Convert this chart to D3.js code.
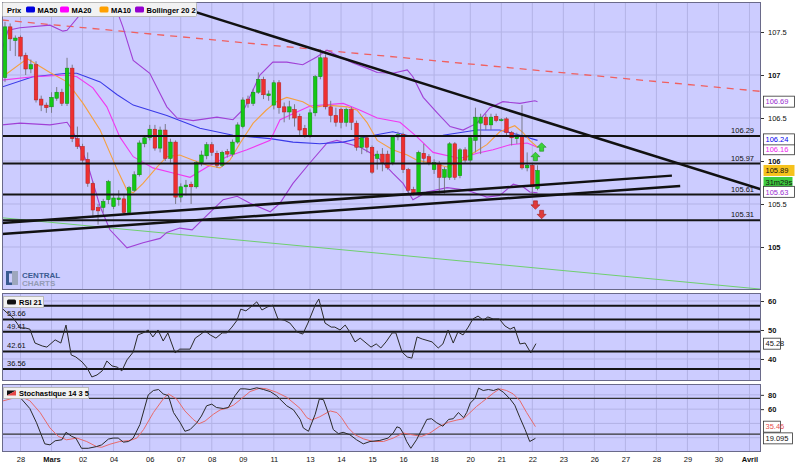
<!DOCTYPE html>
<html>
<head>
<meta charset="utf-8">
<script src="https://cdnjs.cloudflare.com/ajax/libs/d3/7.8.5/d3.min.js"></script>
<style>
  body { margin: 0; background: #fff; }
  svg { display: block; font-family: "Liberation Sans", Arial, sans-serif; }
</style>
</head>
<body>
<div id="chart"></div>
<script>
'use strict';

// ---- data ----
// candles: [open, close, high, low], one per 4h bar
var candles = [
  [106.97, 107.56, 107.62, 106.92], [107.56, 107.42, 107.60, 107.28], [107.40, 107.43, 107.46, 107.22],
  [107.44, 107.22, 107.46, 107.18], [107.23, 107.07, 107.26, 107.00], [107.07, 107.12, 107.18, 107.02],
  [107.12, 106.71, 107.16, 106.68], [106.72, 106.65, 106.76, 106.58], [106.65, 106.62, 106.68, 106.56],
  [106.63, 106.74, 106.80, 106.56], [106.73, 106.80, 106.86, 106.70], [106.80, 106.67, 106.84, 106.64],
  [106.67, 107.08, 107.20, 106.64], [107.08, 106.26, 107.12, 106.22], [106.26, 106.17, 106.40, 106.14],
  [106.17, 106.01, 106.20, 105.98], [106.02, 105.74, 106.10, 105.70], [105.74, 105.43, 105.76, 105.34],
  [105.46, 105.42, 105.50, 105.26], [105.46, 105.53, 105.56, 105.40], [105.55, 105.76, 105.78, 105.50],
  [105.47, 105.57, 105.62, 105.44], [105.55, 105.57, 105.66, 105.48], [105.56, 105.40, 105.60, 105.38],
  [105.40, 105.69, 105.71, 105.38], [105.66, 105.84, 105.88, 105.64], [105.84, 106.21, 106.24, 105.82],
  [106.20, 106.27, 106.30, 106.16], [106.27, 106.37, 106.42, 106.24], [106.37, 106.15, 106.42, 106.12],
  [106.15, 106.36, 106.40, 106.10], [106.36, 106.03, 106.43, 106.00], [106.03, 106.22, 106.26, 105.98],
  [106.22, 105.58, 106.24, 105.50], [105.58, 105.70, 105.74, 105.52], [105.70, 105.72, 105.78, 105.60],
  [105.73, 105.70, 105.76, 105.50], [105.70, 105.98, 106.00, 105.68], [105.98, 106.07, 106.12, 105.94],
  [106.06, 106.19, 106.22, 106.02], [106.19, 106.10, 106.22, 106.06], [106.09, 105.95, 106.12, 105.92],
  [105.95, 106.10, 106.12, 105.93], [106.11, 106.08, 106.14, 106.04], [106.08, 106.22, 106.25, 106.05],
  [106.22, 106.42, 106.45, 106.20], [106.40, 106.71, 106.74, 106.38], [106.72, 106.67, 106.76, 106.62],
  [106.67, 106.80, 106.84, 106.64], [106.80, 106.95, 107.03, 106.78], [106.95, 106.77, 106.98, 106.72],
  [106.76, 106.78, 106.82, 106.70], [106.65, 106.91, 106.94, 106.60], [106.91, 106.62, 106.94, 106.55],
  [106.63, 106.57, 106.68, 106.45], [106.57, 106.63, 106.70, 106.48], [106.60, 106.50, 106.66, 106.40],
  [106.52, 106.36, 106.55, 106.30], [106.38, 106.29, 106.42, 106.27], [106.29, 106.56, 106.60, 106.27],
  [106.56, 106.98, 107.00, 106.52], [106.98, 107.20, 107.30, 106.95], [107.20, 106.63, 107.24, 106.60],
  [106.63, 106.53, 106.70, 106.45], [106.53, 106.45, 106.62, 106.40], [106.60, 106.45, 106.62, 106.38],
  [106.45, 106.60, 106.62, 106.40], [106.60, 106.45, 106.63, 106.36], [106.44, 106.16, 106.47, 106.12],
  [106.16, 106.27, 106.30, 106.08], [106.27, 106.16, 106.29, 106.10], [106.16, 105.87, 106.18, 105.85],
  [106.03, 106.08, 106.12, 105.90], [106.08, 105.98, 106.15, 105.88], [106.08, 105.92, 106.12, 105.90],
  [105.98, 106.28, 106.30, 105.95], [106.28, 106.31, 106.34, 106.24], [106.31, 105.90, 106.33, 105.86],
  [105.90, 105.66, 105.92, 105.62], [105.67, 105.63, 105.70, 105.60], [105.63, 106.10, 106.12, 105.60],
  [106.09, 106.03, 106.20, 105.98], [106.05, 105.98, 106.08, 105.95], [105.90, 105.98, 106.02, 105.85],
  [105.97, 105.81, 106.00, 105.62], [105.81, 105.90, 105.93, 105.62], [105.81, 106.20, 106.22, 105.78],
  [106.20, 105.81, 106.22, 105.78], [105.83, 106.13, 106.15, 105.80], [106.13, 106.01, 106.16, 105.98],
  [106.01, 106.27, 106.30, 105.98], [106.24, 106.51, 106.62, 106.10], [106.44, 106.51, 106.55, 106.08],
  [106.51, 106.42, 106.55, 106.36], [106.42, 106.51, 106.55, 106.36], [106.52, 106.47, 106.55, 106.45],
  [106.48, 106.48, 106.50, 106.46], [106.49, 106.33, 106.51, 106.30], [106.33, 106.27, 106.35, 106.18],
  [106.26, 106.30, 106.33, 106.20], [106.30, 105.92, 106.65, 105.90], [105.92, 105.95, 106.10, 105.88],
  [105.95, 105.70, 105.97, 105.60], [105.68, 105.89, 105.95, 105.66]
];

// indicator lines as [bar index, value]
var ma50 = [[-0.6, 106.86], [5.4, 106.98], [12, 107.02], [13.9, 107.02], [18.4, 106.92], [21.7, 106.77],
  [24.8, 106.65], [31.3, 106.53], [37.7, 106.38], [44.1, 106.30], [51.3, 106.26], [55.7, 106.22],
  [60.9, 106.20], [65.4, 106.22], [70.6, 106.29], [75, 106.34], [78.3, 106.29], [84.7, 106.30],
  [91.3, 106.36], [95.7, 106.36], [99.6, 106.30], [103, 106.24]];
var ma20 = [[-0.6, 106.94], [5.4, 106.98], [12, 107.00], [13.9, 106.98], [17, 106.85], [19.7, 106.63],
  [22.2, 106.28], [24.8, 106.05], [28.6, 105.92], [32.5, 105.86], [35.8, 105.81], [39.1, 105.93],
  [42.9, 106.05], [46.8, 106.13], [51.3, 106.24], [53.2, 106.48], [59, 106.64], [65.4, 106.67],
  [68.7, 106.59], [72, 106.50], [76.4, 106.45], [79.7, 106.28], [82.8, 106.10], [88, 106.03],
  [91.3, 106.09], [94.4, 106.13], [97.7, 106.19], [101, 106.21], [103, 106.16]];
var ma10 = [[0, 107.00], [4.3, 107.19], [8.7, 107.03], [12, 106.92], [15.1, 106.67], [18.4, 106.36],
  [21.7, 105.90], [23.6, 105.66], [24.8, 105.63], [26.7, 105.74], [29.4, 105.93], [31.3, 106.05],
  [33.8, 106.07], [36.4, 106.01], [39.1, 105.95], [41.6, 105.92], [43.5, 106.01], [45.5, 106.21],
  [48, 106.44], [50.5, 106.59], [52.5, 106.69], [54.5, 106.74], [57.6, 106.69], [59.6, 106.62],
  [62.3, 106.65], [66.2, 106.63], [68.1, 106.59], [70, 106.45], [72, 106.24], [75, 106.13],
  [77.8, 106.07], [79.7, 106.01], [83.6, 105.96], [85.5, 105.93], [88, 105.99], [90.5, 106.09],
  [93.2, 106.19], [95.7, 106.34], [98.6, 106.41], [100.2, 106.33], [101.5, 106.24], [103, 106.16]];
var bollUp = [[-0.6, 107.29], [0.6, 107.52], [2.9, 107.55], [8.7, 107.58], [11.2, 107.51], [12, 107.52],
  [14.5, 107.70], [16.4, 107.99], [19.3, 108.10], [20.9, 107.87], [22.8, 107.56], [24.8, 107.17],
  [28, 107.02], [31.3, 106.63], [33.3, 106.50], [36.4, 106.47], [41, 106.51], [44.1, 106.48],
  [46.4, 106.62], [49.3, 107.00], [51.8, 107.15], [54.5, 107.15], [57.6, 107.12], [60.3, 107.21],
  [62.3, 107.29], [64.8, 107.21], [67.3, 107.14], [70, 107.08], [72, 107.03], [75, 107.02],
  [77.8, 107.06], [78.9, 106.98], [80.9, 106.74], [83.6, 106.56], [86.1, 106.40], [88.6, 106.36],
  [91.3, 106.44], [93.8, 106.62], [96.3, 106.69], [99.6, 106.67], [102.5, 106.70], [103, 106.69]];
var bollDn = [[-0.6, 106.42], [2.9, 106.44], [8.7, 106.42], [12, 106.45], [13, 106.36], [15.9, 105.98],
  [18.4, 105.47], [20.3, 105.20], [23.6, 104.99], [26.7, 105.05], [30, 105.10], [31.3, 105.17],
  [33.8, 105.22], [36.2, 105.20], [39.1, 105.37], [42.2, 105.55], [44.9, 105.59], [47.4, 105.51],
  [51.3, 105.41], [53.2, 105.51], [55.7, 105.74], [59, 105.98], [62.3, 106.21], [64.2, 106.24],
  [68.7, 106.16], [72, 106.05], [75, 105.86], [77, 105.74], [78.9, 105.55], [81.6, 105.64],
  [85.5, 105.69], [89.4, 105.66], [93.2, 105.58], [95.7, 105.60], [98.3, 105.73], [100.2, 105.70],
  [101.5, 105.64], [103, 105.63]];

var rsi = [[-0.4, 57.2], [0.4, 55.9], [1.4, 54.5], [2.3, 52.4], [2.9, 50.7], [3.9, 50.7], [4.8, 50.3],
  [5.8, 45.5], [7.2, 44.5], [8.1, 44.1], [9.7, 46.6], [10.8, 45.5], [11.8, 51.7], [12.8, 41.4],
  [13.7, 40.7], [14.9, 39.0], [15.9, 36.9], [16.8, 33.8], [17.8, 34.5], [18.8, 35.9], [19.7, 39.3],
  [20.7, 37.6], [21.7, 37.2], [22.6, 35.9], [23.6, 39.7], [24.8, 42.4], [25.7, 48.3], [26.7, 49.0],
  [27.7, 50.0], [28.6, 47.6], [29.6, 50.0], [30.6, 46.2], [31.5, 49.0], [32.9, 42.1], [33.8, 43.4],
  [35.8, 43.4], [36.8, 47.2], [37.7, 48.3], [38.7, 49.7], [39.7, 48.3], [40.8, 47.2], [42.0, 49.0],
  [42.9, 49.0], [43.9, 51.0], [44.9, 53.4], [45.6, 57.2], [46.6, 56.6], [47.8, 58.3], [48.7, 59.7],
  [49.7, 56.9], [50.7, 57.9], [51.8, 58.6], [52.8, 53.8], [54.0, 53.4], [55.1, 52.4], [56.5, 49.3],
  [57.6, 48.6], [58.6, 52.4], [60.0, 58.6], [60.7, 60.7], [61.9, 52.4], [63.1, 51.0], [63.8, 51.0],
  [64.8, 50.0], [65.8, 51.7], [66.7, 49.3], [67.7, 45.9], [68.7, 47.2], [70.8, 44.1], [71.8, 45.2],
  [72.7, 43.8], [73.7, 45.9], [74.9, 49.0], [75.6, 49.0], [76.8, 42.4], [77.8, 40.7], [78.7, 40.3],
  [79.7, 47.6], [80.7, 46.9], [82.6, 45.9], [83.8, 43.8], [84.7, 45.2], [85.7, 50.0], [86.7, 45.5],
  [87.6, 49.3], [88.6, 48.3], [89.6, 51.0], [90.5, 53.8], [91.5, 54.8], [92.5, 53.4], [93.4, 54.5],
  [94.4, 53.8], [95.6, 53.8], [96.7, 51.4], [97.7, 50.3], [98.5, 51.0], [99.6, 45.2], [100.6, 45.5],
  [101.7, 42.1], [102.7, 45.3]];

var stochK = [[2.9, 76.6], [4.8, 60.9], [6.1, 40.9], [7.7, 11.4], [8.7, 10.0], [9.7, 15.7], [11.0, 17.1],
  [11.8, 27.6], [12.9, 21.9], [13.7, 19.5], [14.8, 5.2], [16.1, 5.2], [17.7, 7.6], [18.7, 10.0],
  [20.0, 18.1], [20.9, 19.5], [21.9, 19.5], [22.9, 13.8], [23.9, 14.7], [24.8, 19.5], [26.1, 38.5],
  [27.7, 79.9], [28.7, 86.1], [29.7, 87.5], [30.6, 81.3], [31.6, 78.9], [32.6, 55.2], [33.9, 40.9],
  [34.8, 29.0], [35.8, 31.4], [37.1, 40.9], [38.0, 50.4], [39.0, 64.7], [40.0, 67.0], [40.9, 62.3],
  [42.2, 60.9], [43.2, 62.3], [44.5, 78.9], [45.5, 88.4], [46.4, 88.4], [47.4, 87.5], [48.7, 89.9],
  [50.0, 87.5], [51.3, 84.6], [52.5, 78.9], [54.5, 64.7], [55.8, 59.0], [57.1, 45.6], [57.7, 33.7],
  [58.7, 29.0], [60.0, 52.8], [60.8, 74.2], [61.6, 73.2], [62.5, 55.2], [63.5, 31.4], [64.5, 25.7],
  [65.4, 27.6], [66.7, 24.2], [68.0, 17.1], [69.3, 11.4], [70.6, 14.7], [72.5, 16.2], [74.1, 19.5],
  [75.1, 26.6], [75.8, 35.2], [76.4, 33.7], [77.0, 26.6], [77.7, 14.7], [78.5, 5.2], [79.6, 17.1],
  [80.6, 31.4], [81.6, 45.6], [82.5, 46.6], [83.5, 40.9], [84.7, 36.1], [85.8, 45.6], [86.7, 46.6],
  [87.7, 55.2], [88.7, 48.0], [89.3, 55.2], [90.0, 68.5], [90.9, 75.1], [91.6, 89.4], [92.5, 86.1],
  [93.5, 87.5], [94.5, 86.1], [95.4, 88.4], [96.4, 83.7], [97.7, 74.2], [98.6, 65.6], [99.6, 48.0],
  [100.6, 31.4], [101.5, 14.7], [102.6, 19.1]];
var stochD = [[-1.0, 70.4], [1.0, 74.2], [2.9, 78.0], [4.8, 71.8], [6.8, 55.2], [8.7, 33.7], [10.3, 21.9],
  [11.9, 17.1], [13.9, 19.5], [15.8, 14.7], [17.7, 7.6], [18.7, 6.6], [20.3, 10.9], [22.2, 14.7],
  [24.2, 16.2], [25.5, 19.5], [26.8, 31.4], [28.7, 55.2], [30.6, 74.2], [31.6, 81.3], [33.2, 74.2],
  [34.8, 57.5], [36.4, 45.6], [37.5, 39.5], [38.7, 43.3], [40.3, 52.8], [41.6, 58.9], [42.9, 61.3],
  [44.2, 65.6], [45.5, 73.2], [47.4, 84.6], [49.3, 89.4], [50.6, 88.4], [52.5, 83.7], [54.5, 76.6],
  [56.1, 67.0], [57.1, 60.9], [58.4, 48.0], [59.3, 44.7], [60.9, 49.4], [62.9, 57.5], [64.2, 55.2],
  [65.1, 48.0], [66.4, 33.7], [67.7, 24.2], [69.3, 18.5], [71.2, 14.7], [73.2, 14.7], [75.1, 19.5],
  [77.0, 26.6], [78.7, 24.2], [80.6, 21.9], [82.2, 26.6], [84.1, 36.1], [85.8, 41.8], [87.4, 44.7],
  [88.7, 46.6], [89.6, 52.8], [91.2, 63.7], [92.2, 69.4], [93.2, 75.1], [94.5, 82.7], [95.7, 88.4],
  [97.0, 86.1], [98.3, 81.3], [99.6, 71.8], [100.9, 55.2], [102.6, 35.5]];

// drawn objects
var hLevels = [106.29, 105.97, 105.61, 105.31];
var trendLines = [
  { a: [18.4, 108.08], b: [146.2, 105.67], color: '#111', w: 2.5, dash: null },
  { a: [-0.6, 105.28], b: [129, 105.83], color: '#111', w: 2.5, dash: null },
  { a: [-0.6, 105.15], b: [130.6, 105.71], color: '#111', w: 2.5, dash: null },
  { a: [-0.6, 107.64], b: [146.2, 106.81], color: '#f06060', w: 1.3, dash: '7,6' },
  { a: [-0.6, 105.34], b: [146.2, 104.51], color: '#6fcf6f', w: 1, dash: null }
];
var signals = [
  { i: 103.8, p: 106.16, up: true }, { i: 102.6, p: 106.05, up: true },
  { i: 102.6, p: 105.49, up: false }, { i: 103.8, p: 105.38, up: false }
];
var rsiLevels = [58.4, 53.66, 49.41, 42.61, 36.56];
var rsiLevelLabels = [53.66, 49.41, 42.61, 36.56];
var stochLevels = [75, 25];

// x axis labels (bar index where each day starts)
var dayIdx = [3, 9, 15, 21, 28, 34, 40, 46, 52, 59, 65, 71, 77, 83, 90, 96, 102, 108, 114, 120, 126, 132, 138, 144];
var dayLbl = ['28', 'Mars', '02', '04', '06', '07', '08', '09', '11', '13', '14', '15', '16', '18', '20', '21',
  '22', '23', '26', '27', '28', '29', '30', 'Avril'];
var priceTicks = [105, 105.5, 106, 106.5, 107, 107.5];
var rsiTicks = [40, 50, 60];
var stochGrid = [20, 40, 60, 80];
var stochTicks = [60, 80];

// ---- layout ----
var W = 806, H = 467, L = 2, R = 761;
var panels = {
  main: { top: 2, bottom: 290 },
  rsi: { top: 293, bottom: 381 },
  sto: { top: 384, bottom: 452 }
};
var FONT = 7.5;
var BG = '#ccccff', GRID = '#b3b3e6';

var x = d3.scaleLinear().domain([-0.58, 146.23]).range([L, R]);
var yP = d3.scaleLinear().domain([104.5, 107.849]).range([panels.main.bottom, panels.main.top]);
var yR = d3.scaleLinear().domain([32.41, 62.76]).range([panels.rsi.bottom, panels.rsi.top]);
var yS = d3.scaleLinear().domain([0, 95.2]).range([panels.sto.bottom, panels.sto.top]);

var svg = d3.select('#chart').append('svg')
  .attr('width', W).attr('height', H)
  .style('font-size', FONT + 'px');
svg.append('rect').attr('width', W).attr('height', H).attr('fill', '#fff');

var defs = svg.append('defs');

function panel(name, p, yScale, grid, ticks) {
  defs.append('clipPath').attr('id', 'clip-' + name)
    .append('rect').attr('x', L).attr('y', p.top).attr('width', R - L).attr('height', p.bottom - p.top);
  var g = svg.append('g');
  g.append('rect').attr('x', L).attr('y', p.top).attr('width', R - L).attr('height', p.bottom - p.top)
    .attr('fill', BG);
  var inner = g.append('g').attr('clip-path', 'url(#clip-' + name + ')');
  // grid
  inner.selectAll('line.vg').data(dayIdx).enter().append('line')
    .attr('x1', function(d) { return x(d); }).attr('x2', function(d) { return x(d); })
    .attr('y1', p.top).attr('y2', p.bottom).attr('stroke', GRID).attr('stroke-width', 1);
  inner.selectAll('line.hg').data(grid).enter().append('line')
    .attr('x1', L).attr('x2', R)
    .attr('y1', function(d) { return yScale(d); }).attr('y2', function(d) { return yScale(d); })
    .attr('stroke', GRID).attr('stroke-width', 1);
  // frame
  g.append('rect').attr('x', L + 0.5).attr('y', p.top + 0.5).attr('width', R - L - 1).attr('height', p.bottom - p.top - 1)
    .attr('fill', 'none').attr('stroke', '#6a6a8a').attr('stroke-width', 1);
  // right axis
  var ax = svg.append('g').attr('transform', 'translate(' + R + ',0)')
    .call(d3.axisRight(yScale).tickValues(ticks).tickSize(3).tickPadding(4)
      .tickFormat(function(d) { return String(d); }));
  ax.select('.domain').remove();
  ax.selectAll('line').attr('stroke', '#333');
  ax.selectAll('text').attr('fill', '#111').style('font-size', FONT + 'px')
    .style('font-family', '"Liberation Sans", Arial, sans-serif')
    .style('font-weight', function(d) { return d % 1 === 0 ? 'bold' : 'normal'; });
  return { g: g, inner: inner };
}

var pm = panel('main', panels.main, yP, priceTicks, priceTicks);
var pr = panel('rsi', panels.rsi, yR, rsiTicks, rsiTicks);
var ps = panel('sto', panels.sto, yS, stochGrid, stochTicks);

// ---- main panel ----
var mi = pm.inner;

// logo
var logo = mi.append('g').attr('opacity', 0.9);
logo.append('rect').attr('x', 6).attr('y', 271).attr('width', 3).attr('height', 14).attr('fill', '#2b4f86');
logo.append('rect').attr('x', 6).attr('y', 271).attr('width', 6).attr('height', 2.5).attr('fill', '#2b4f86');
logo.append('rect').attr('x', 6).attr('y', 282.5).attr('width', 6).attr('height', 2.5).attr('fill', '#2b4f86');
logo.append('rect').attr('x', 12).attr('y', 271).attr('width', 6).attr('height', 14).attr('fill', '#9aa3b8');
logo.append('text').attr('x', 22).attr('y', 277.5).text('CENTRAL')
  .attr('fill', '#2b4f86').style('font-weight', 'bold').style('font-size', '8px');
logo.append('text').attr('x', 22).attr('y', 285.5).text('CHARTS')
  .attr('fill', '#8c96ad').style('font-weight', 'bold').style('font-size', '8px');

var priceLine = d3.line().x(function(d) { return x(d[0]); }).y(function(d) { return yP(d[1]); });

// trend lines behind price
trendLines.slice(3).forEach(function(t) {
  mi.append('path').attr('d', priceLine([t.a, t.b])).attr('fill', 'none')
    .attr('stroke', t.color).attr('stroke-width', t.w).attr('stroke-dasharray', t.dash);
});

[[bollUp, '#a040d6'], [bollDn, '#a040d6'], [ma50, '#3a3ae8'], [ma20, '#f038f0'], [ma10, '#f5a040']]
  .forEach(function(s) {
    mi.append('path').attr('d', priceLine(s[0])).attr('fill', 'none')
      .attr('stroke', s[1]).attr('stroke-width', 1.1);
  });

// candles
var bw = 3.6;
var cg = mi.append('g');
cg.selectAll('line.wick').data(candles).enter().append('line')
  .attr('x1', function(d, i) { return x(i); }).attr('x2', function(d, i) { return x(i); })
  .attr('y1', function(d) { return yP(d[2]); }).attr('y2', function(d) { return yP(d[3]); })
  .attr('stroke', '#7a7a8a').attr('stroke-width', 1);
cg.selectAll('rect.body').data(candles).enter().append('rect')
  .attr('x', function(d, i) { return x(i) - bw / 2; })
  .attr('y', function(d) { return yP(Math.max(d[0], d[1])); })
  .attr('width', bw)
  .attr('height', function(d) { return Math.max(1, Math.abs(yP(d[0]) - yP(d[1]))); })
  .attr('fill', function(d) { return d[1] >= d[0] ? '#14c814' : '#ee3030'; })
  .attr('stroke', function(d) { return d[1] >= d[0] ? '#108a10' : '#b02020'; })
  .attr('stroke-width', 0.5);

// horizontal levels
mi.selectAll('line.lvl').data(hLevels).enter().append('line')
  .attr('x1', L).attr('x2', R)
  .attr('y1', function(d) { return yP(d); }).attr('y2', function(d) { return yP(d); })
  .attr('stroke', '#151515').attr('stroke-width', 2);
mi.selectAll('text.lvl').data(hLevels).enter().append('text')
  .attr('x', 754).attr('y', function(d) { return yP(d) - 3; })
  .attr('text-anchor', 'end').attr('fill', '#111')
  .text(function(d) { return d.toFixed(2); });

trendLines.slice(0, 3).forEach(function(t) {
  mi.append('path').attr('d', priceLine([t.a, t.b])).attr('fill', 'none')
    .attr('stroke', t.color).attr('stroke-width', t.w);
});

// signal arrows
signals.forEach(function(s) {
  var cx = x(s.i), cy = yP(s.p), k = s.up ? -1 : 1;
  var pts = [[cx - 4.5, cy], [cx, cy + 4.5 * k], [cx + 4.5, cy], [cx + 2, cy], [cx + 2, cy - 4 * k],
    [cx - 2, cy - 4 * k], [cx - 2, cy]];
  mi.append('polygon').attr('points', pts.map(function(p) { return p.join(','); }).join(' '))
    .attr('fill', s.up ? '#3ad23a' : '#e03a3a')
    .attr('stroke', s.up ? '#1d8f1d' : '#a01f1f').attr('stroke-width', 0.6);
});

// legend
var lg = svg.append('g');
lg.append('rect').attr('x', 2.5).attr('y', 2.5).attr('width', 194).attr('height', 14)
  .attr('fill', '#f2f2f2').attr('stroke', '#b8b8b8').attr('rx', 1);
lg.append('text').attr('x', 7).attr('y', 12.5).text('Prix').style('font-weight', 'bold');
var legendItems = [
  { x: 26, c: '#0000e0', t: 'MA50' }, { x: 60, c: '#ff00ff', t: 'MA20' },
  { x: 99.5, c: '#ffa000', t: 'MA10' }, { x: 135, c: '#9400d0', t: 'Bollinger 20 2' }
];
legendItems.forEach(function(it) {
  lg.append('rect').attr('x', it.x).attr('y', 6.5).attr('width', 9).attr('height', 6).attr('rx', 1.5)
    .attr('fill', it.c);
  lg.append('text').attr('x', it.x + 11.5).attr('y', 12.5).text(it.t).style('font-weight', 'bold');
});

// ---- RSI panel ----
var ri = pr.inner;
ri.selectAll('line.lvl').data(rsiLevels).enter().append('line')
  .attr('x1', L).attr('x2', R)
  .attr('y1', function(d) { return yR(d); }).attr('y2', function(d) { return yR(d); })
  .attr('stroke', '#151515').attr('stroke-width', 2);
ri.selectAll('text.lvl').data(rsiLevelLabels).enter().append('text')
  .attr('x', 7).attr('y', function(d) { return yR(d) - 3; }).attr('fill', '#111')
  .text(function(d) { return d.toFixed(2); });
ri.append('path')
  .attr('d', d3.line().x(function(d) { return x(d[0]); }).y(function(d) { return yR(d[1]); })(rsi))
  .attr('fill', 'none').attr('stroke', '#2a2a2a').attr('stroke-width', 1);

var rl = svg.append('g');
rl.append('rect').attr('x', 3.5).attr('y', 296.5).attr('width', 40).attr('height', 11)
  .attr('fill', '#f2f2f2').attr('stroke', '#b8b8b8');
rl.append('rect').attr('x', 7).attr('y', 299.5).attr('width', 9).attr('height', 5).attr('rx', 1.5).attr('fill', '#111');
rl.append('text').attr('x', 19).attr('y', 305).text('RSI 21').style('font-weight', 'bold');

// ---- Stochastic panel ----
var si = ps.inner;
si.selectAll('line.lvl').data(stochLevels).enter().append('line')
  .attr('x1', L).attr('x2', R)
  .attr('y1', function(d) { return yS(d); }).attr('y2', function(d) { return yS(d); })
  .attr('stroke', '#333').attr('stroke-width', 1.3);
var sLine = d3.line().x(function(d) { return x(d[0]); }).y(function(d) { return yS(d[1]); });
si.append('path').attr('d', sLine(stochD)).attr('fill', 'none').attr('stroke', '#e86a6a').attr('stroke-width', 1);
si.append('path').attr('d', sLine(stochK)).attr('fill', 'none').attr('stroke', '#2a2a2a').attr('stroke-width', 1);

var sl = svg.append('g');
sl.append('rect').attr('x', 3.5).attr('y', 387.5).attr('width', 85).attr('height', 11)
  .attr('fill', '#f2f2f2').attr('stroke', '#b8b8b8');
sl.append('polygon').attr('points', '7,390.5 16,390.5 7,395.5').attr('fill', '#111');
sl.append('polygon').attr('points', '16,390.5 16,395.5 7,395.5').attr('fill', '#e84a4a');
sl.append('text').attr('x', 19).attr('y', 396).text('Stochastique 14 3 5').style('font-weight', 'bold');

// ---- value boxes on the right ----
var boxes = [
  { y: yP(106.69), w: 31, t: '106.69', c: '#9a2fd0', bg: '#fff' },
  { y: yP(106.16) + 2, w: 31, t: '106.16', c: '#ee22ee', bg: '#fff' },
  { y: yP(106.24) - 1, w: 31, t: '106.24', c: '#0000ee', bg: '#fff' },
  { y: yP(105.89), w: 31, t: '105.89', c: '#111', bg: '#f6c21c' },
  { y: yP(105.89) + 12, w: 29, t: '31m29s', c: '#111', bg: '#3ecb3e' },
  { y: yP(105.63) - 1, w: 31, t: '105.63', c: '#9a2fd0', bg: '#fff' },
  { y: yR(45.28), w: 17, t: '45.28', c: '#111', bg: '#fff' },
  { y: yS(35.46), w: 17, t: '35.46', c: '#e85050', bg: '#fff' },
  { y: yS(19.095), w: 29, t: '19.095', c: '#111', bg: '#fff' }
];
boxes.forEach(function(b) {
  var g = svg.append('g');
  g.append('rect').attr('x', 763.5).attr('y', b.y - 5.5).attr('width', b.w).attr('height', 11)
    .attr('fill', b.bg).attr('stroke', b.bg === '#fff' ? '#333' : 'none').attr('stroke-width', 0.8);
  g.append('text').attr('x', 765.5).attr('y', b.y + 2.8).attr('fill', b.c).text(b.t);
});

// ---- x axis ----
var xa = svg.append('g').attr('transform', 'translate(0,' + panels.sto.bottom + ')')
  .call(d3.axisBottom(x).tickValues(dayIdx).tickSize(0).tickPadding(5)
    .tickFormat(function(d, k) { return dayLbl[k]; }));
xa.select('.domain').remove();
xa.selectAll('text').attr('fill', '#111').style('font-size', FONT + 'px')
  .style('font-family', '"Liberation Sans", Arial, sans-serif')
  .style('font-weight', function(d, k) { return (dayLbl[k] === 'Mars' || dayLbl[k] === 'Avril') ? 'bold' : 'normal'; });
</script>
</body>
</html>
